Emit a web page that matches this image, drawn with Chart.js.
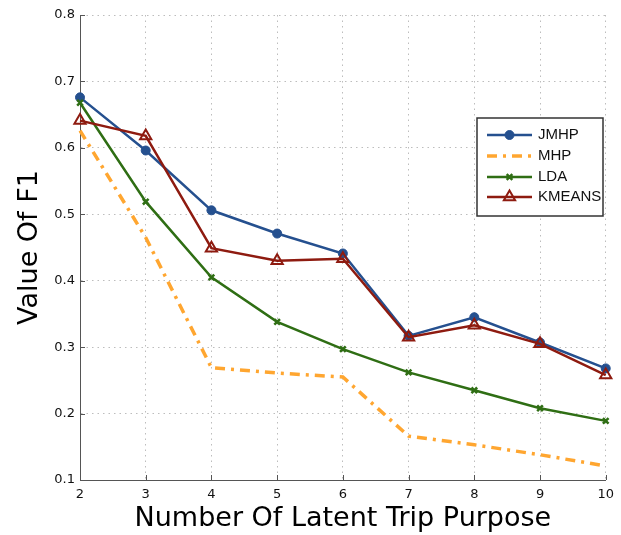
<!DOCTYPE html>
<html>
<head>
<meta charset="utf-8">
<style>
  html, body { margin: 0; padding: 0; background: #ffffff; }
  #wrap { width: 621px; height: 535px; position: relative; }
</style>
<script src="https://cdn.jsdelivr.net/npm/chart.js@4/dist/chart.umd.min.js"></script>
</head>
<body>
<div id="wrap"><canvas id="f1chart" width="621" height="535"></canvas></div>
<script>
// Number of latent trip purposes (x axis categories)
const purposeCounts = ['2', '3', '4', '5', '6', '7', '8', '9', '10'];

// F1 score of each method
const jmhpF1   = [0.676, 0.596, 0.506, 0.471, 0.441, 0.317, 0.345, 0.307, 0.268];
const mhpF1    = [0.626, 0.465, 0.269, 0.261, 0.255, 0.166, 0.153, 0.138, 0.121];
const ldaF1    = [0.668, 0.519, 0.405, 0.338, 0.297, 0.262, 0.235, 0.208, 0.189];
const kmeansF1 = [0.641, 0.618, 0.449, 0.430, 0.433, 0.315, 0.333, 0.305, 0.258];

// Method names
const methodNames = ['JMHP', 'MHP', 'LDA', 'KMEANS'];

// Y axis range and step
const yTickMin = 0.1;
const yTickMax = 0.8;
const yTickStep = 0.1;

const COLORS = {
  jmhp: '#25508f',
  mhp: '#ffa630',
  lda: '#2f6e14',
  kmeans: '#8e1b10'
};

// Inward tick marks on the left and bottom axes
const inwardTicks = {
  id: 'inwardTicks',
  afterDatasetsDraw(chart) {
    const { ctx, chartArea, scales } = chart;
    ctx.save();
    ctx.strokeStyle = '#555';
    ctx.lineWidth = 1;
    ctx.beginPath();
    scales.y.ticks.forEach((t) => {
      const py = Math.round(scales.y.getPixelForValue(t.value)) + 0.5;
      ctx.moveTo(chartArea.left, py);
      ctx.lineTo(chartArea.left + 5, py);
    });
    scales.x.ticks.forEach((t, i) => {
      const px = Math.round(scales.x.getPixelForTick(i)) + 0.5;
      ctx.moveTo(px, chartArea.bottom);
      ctx.lineTo(px, chartArea.bottom - 5);
    });
    ctx.stroke();
    ctx.restore();
  }
};

// Boxed legend drawing each dataset's line style and marker
const boxedLegend = {
  id: 'boxedLegend',
  afterDraw(chart) {
    const { ctx } = chart;
    const box = { x: 477, y: 118, w: 126, h: 98 };
    ctx.save();
    ctx.fillStyle = '#ffffff';
    ctx.fillRect(box.x, box.y, box.w, box.h);
    ctx.strokeStyle = '#333';
    ctx.lineWidth = 1.5;
    ctx.strokeRect(box.x, box.y, box.w, box.h);
    const rowY = [135, 156, 177, 197];
    chart.data.datasets.forEach((ds, i) => {
      const y = rowY[i];
      const x0 = 487, x1 = 532, xm = 509.5;
      ctx.save();
      ctx.strokeStyle = ds.borderColor;
      ctx.lineWidth = ds.borderWidth;
      ctx.setLineDash(ds.borderDash || []);
      ctx.beginPath();
      ctx.moveTo(x0, y);
      ctx.lineTo(x1, y);
      ctx.stroke();
      ctx.restore();
      if (ds.pointRadius > 0) {
        ctx.save();
        ctx.fillStyle = ds.pointBackgroundColor;
        ctx.strokeStyle = ds.borderColor;
        ctx.lineWidth = ds.pointBorderWidth;
        ctx.setLineDash([]);
        Chart.helpers.drawPoint(ctx, {
          pointStyle: ds.pointStyle,
          rotation: 0,
          radius: ds.pointRadius,
          borderWidth: ds.pointBorderWidth
        }, xm, y);
        ctx.restore();
      }
      ctx.fillStyle = '#111';
      ctx.font = '15px "Liberation Sans", Arial, sans-serif';
      ctx.textBaseline = 'middle';
      ctx.textAlign = 'left';
      ctx.fillText(ds.label, 538, y);
    });
    ctx.restore();
  }
};

const whiteBg = {
  id: 'whiteBg',
  beforeDraw(chart) {
    const { ctx, width, height } = chart;
    ctx.save();
    ctx.fillStyle = '#ffffff';
    ctx.fillRect(0, 0, width, height);
    ctx.restore();
  }
};

const gridStyle = {
  color: '#bdbdbd',
  lineWidth: 1,
  drawTicks: false
};

new Chart(document.getElementById('f1chart'), {
  type: 'line',
  data: {
    labels: purposeCounts,
    datasets: [
      {
        label: methodNames[0],
        data: jmhpF1,
        borderColor: COLORS.jmhp,
        backgroundColor: COLORS.jmhp,
        pointBackgroundColor: COLORS.jmhp,
        borderWidth: 2.5,
        pointStyle: 'circle',
        pointRadius: 4.5,
        pointBorderWidth: 1,
        tension: 0,
        order: 3
      },
      {
        label: methodNames[1],
        data: mhpF1,
        borderColor: COLORS.mhp,
        backgroundColor: COLORS.mhp,
        pointBackgroundColor: COLORS.mhp,
        borderWidth: 3.5,
        borderDash: [10, 6, 3, 6],
        pointRadius: 0,
        pointBorderWidth: 0,
        tension: 0,
        order: 2
      },
      {
        label: methodNames[2],
        data: ldaF1,
        borderColor: COLORS.lda,
        backgroundColor: COLORS.lda,
        pointBackgroundColor: COLORS.lda,
        borderWidth: 2.5,
        pointStyle: 'crossRot',
        pointRadius: 4,
        pointBorderWidth: 2.5,
        tension: 0,
        order: 1
      },
      {
        label: methodNames[3],
        data: kmeansF1,
        borderColor: COLORS.kmeans,
        backgroundColor: COLORS.kmeans,
        pointBackgroundColor: 'rgba(255,255,255,0)',
        borderWidth: 2.5,
        pointStyle: 'triangle',
        pointRadius: 6.5,
        pointBorderWidth: 2,
        tension: 0,
        order: 0
      }
    ]
  },
  options: {
    responsive: false,
    animation: false,
    devicePixelRatio: 1,
    layout: { padding: { top: 15, right: 11, left: 0, bottom: 0 } },
    plugins: {
      legend: { display: false },
      tooltip: { enabled: false }
    },
    scales: {
      x: {
        type: 'category',
        offset: false,
        grid: gridStyle,
        border: { display: true, color: '#555', width: 1, dash: [1.5, 4] },
        ticks: {
          color: '#111',
          padding: 7,
          maxRotation: 0,
          autoSkip: false,
          font: { family: '"DejaVu Sans", sans-serif', size: 13 }
        },
        title: {
          display: true,
          text: 'Number Of Latent Trip Purpose',
          color: '#000',
          padding: { top: 0, bottom: 0 },
          font: { family: '"DejaVu Sans", sans-serif', size: 27 }
        },
        afterFit(scale) { scale.height = 55; }
      },
      y: {
        type: 'linear',
        min: yTickMin,
        max: yTickMax,
        grid: gridStyle,
        border: { display: true, color: '#555', width: 1, dash: [1.5, 4] },
        ticks: {
          stepSize: yTickStep,
          color: '#111',
          padding: 5,
          font: { family: '"DejaVu Sans", sans-serif', size: 13 },
          callback: (v) => Number(v).toFixed(1)
        },
        title: {
          display: true,
          text: 'Value Of F1',
          color: '#000',
          padding: { top: 14, bottom: 0 },
          font: { family: '"DejaVu Sans", sans-serif', size: 27 }
        },
        afterFit(scale) { scale.width = 80; }
      }
    }
  },
  plugins: [whiteBg, inwardTicks, boxedLegend]
});
</script>
</body>
</html>
